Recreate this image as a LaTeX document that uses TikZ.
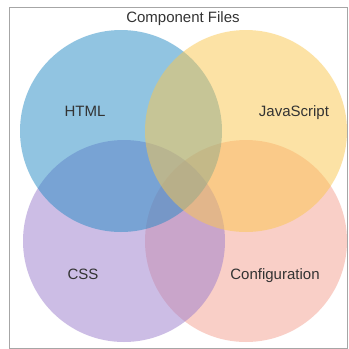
\documentclass[tikz,border=0pt]{standalone}
\usepackage{fontspec}
\setmainfont{Liberation Sans}

\definecolor{htmlblue}{RGB}{37,139,197}
\definecolor{jsyellow}{RGB}{251,199,77}
\definecolor{csspurple}{RGB}{155,125,205}
\definecolor{confpink}{RGB}{245,161,145}
\definecolor{labelgray}{RGB}{51,51,51}

\tikzset{
  setlabel/.style={anchor=base,text=labelgray,inner sep=0pt,font=\fontsize{15}{18}\selectfont}
}

\begin{document}
\begin{tikzpicture}[x=1pt,y=-1pt]
\useasboundingbox (0,0) rectangle (349,349);
\fill[white] (0,0) rectangle (349,349);
\draw[color=black!35] (9,7) rectangle (347,348);
% circles, bottom one first
\foreach \cx/\cy/\col in
  {246/241/confpink, 124/241/csspurple, 121/131/htmlblue, 246/131/jsyellow}
    \fill[\col,fill opacity=.5] (\cx,\cy) circle (101pt);
\node[setlabel] (title) at (183,22) {Component Files};
\node[setlabel] (html) at (85,116.5) {HTML};
\node[setlabel] (js) at (294,116) {JavaScript};
\node[setlabel] (css) at (83,279.5) {CSS};
\node[setlabel] (conf) at (275,279) {Configuration};
\end{tikzpicture}
\end{document}
